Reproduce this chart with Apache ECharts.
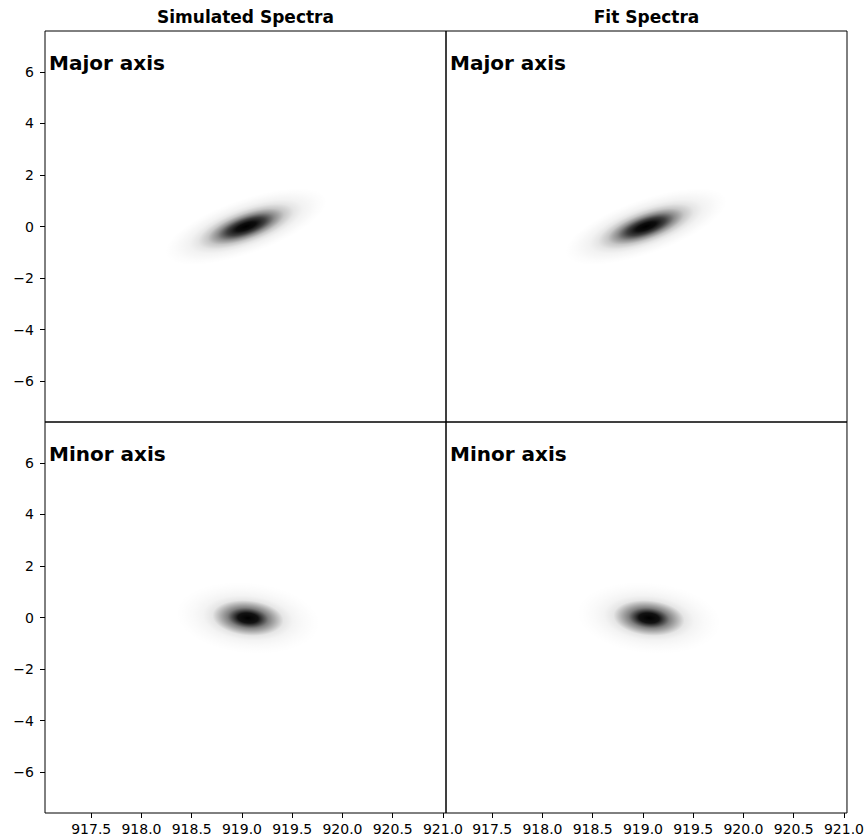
<!DOCTYPE html>
<html>
<head>
<meta charset="utf-8">
<script src="https://cdn.jsdelivr.net/npm/echarts@6/dist/echarts.min.js"></script>
<style>
  html, body { margin: 0; padding: 0; background: #fff; }
  #chart { width: 867px; height: 840px; }
</style>
</head>
<body>
<div id="chart"></div>
<script>
// Axis extents and tick positions
const wavelengthRange = [917.04, 921.03];
const offsetRange = [-7.59, 7.59];
const xTickValues = [917.5, 918.0, 918.5, 919.0, 919.5, 920.0, 920.5, 921.0];
const yTickValues = [-6, -4, -2, 0, 2, 4, 6];

const columnTitles = ['Simulated Spectra', 'Fit Spectra'];
const rowLabels = ['Major axis', 'Minor axis'];

// Line emission in each panel:
// [centre λ (Å), centre offset, semi-major Δλ, semi-major Δoffset, semi-minor Δλ, semi-minor Δoffset]
const simulatedMajor = [919.04, 0.00, 0.80, 1.10, 0.090, -1.00];
const fitMajor       = [919.03, 0.00, 0.80, 1.10, 0.090, -1.00];
const simulatedMinor = [919.06, -0.02, 0.72, -0.27, -0.035, -1.38];
const fitMinor       = [919.06, -0.02, 0.72, -0.27, -0.035, -1.38];

// Normalised intensity along the isophote radius: [fraction of outer radius, intensity]
const majorProfile = [[0, 1], [0.12, 0.95], [0.235, 0.75], [0.35, 0.45], [0.47, 0.22], [0.59, 0.10], [0.70, 0.05], [0.88, 0.015], [1, 0]];
const minorProfile = [[0, 1], [0.14, 0.93], [0.28, 0.50], [0.49, 0.10], [0.62, 0.045], [0.76, 0.022], [0.90, 0.007], [1, 0]];

const panels = [
  { blob: simulatedMajor, profile: majorProfile },
  { blob: fitMajor, profile: majorProfile },
  { blob: simulatedMinor, profile: minorProfile },
  { blob: fitMinor, profile: minorProfile }
];

const gridBoxes = [
  { left: 45, top: 31, width: 401, height: 391 },
  { left: 446, top: 31, width: 401, height: 391 },
  { left: 45, top: 422, width: 401, height: 391 },
  { left: 446, top: 422, width: 401, height: 391 }
];

const FONT = '"DejaVu Sans", "Liberation Sans", sans-serif';

function makeRenderer(profile) {
  const stops = profile.map(function (p) {
    return { offset: p[0], color: 'rgba(0,0,0,' + p[1] + ')' };
  });
  return function (params, api) {
    const x0 = api.value(0), y0 = api.value(1);
    const c = api.coord([x0, y0]);
    const pu = api.coord([x0 + api.value(2), y0 + api.value(3)]);
    const pv = api.coord([x0 + api.value(4), y0 + api.value(5)]);
    const ux = pu[0] - c[0], uy = pu[1] - c[1];
    const vx = pv[0] - c[0], vy = pv[1] - c[1];
    // principal axes of the ellipse spanned by the conjugate semi-axes u, v
    const a = ux * ux + vx * vx;
    const b = ux * uy + vx * vy;
    const d = uy * uy + vy * vy;
    const theta = 0.5 * Math.atan2(2 * b, a - d);
    const h = Math.sqrt(((a - d) / 2) * ((a - d) / 2) + b * b);
    const l1 = (a + d) / 2 + h;
    const l2 = Math.max((a + d) / 2 - h, 1e-6);
    return {
      type: 'circle',
      x: c[0],
      y: c[1],
      rotation: -theta,
      scaleX: Math.sqrt(l1),
      scaleY: Math.sqrt(l2),
      shape: { cx: 0, cy: 0, r: 1 },
      style: { fill: new echarts.graphic.RadialGradient(0.5, 0.5, 0.5, stops) },
      silent: true
    };
  };
}

const xAxes = gridBoxes.map(function (g, i) {
  const bottomRow = i >= 2;
  return {
    type: 'value',
    gridIndex: i,
    position: 'bottom',
    min: wavelengthRange[0],
    max: wavelengthRange[1],
    axisLine: { show: false, onZero: false },
    splitLine: { show: false },
    axisTick: {
      show: bottomRow,
      length: 5,
      customValues: xTickValues,
      lineStyle: { color: '#000', width: 1 }
    },
    axisLabel: {
      show: bottomRow,
      customValues: xTickValues,
      margin: 9,
      color: '#000',
      fontFamily: FONT,
      fontSize: 14,
      formatter: function (v) { return Number(v).toFixed(1); }
    }
  };
});

const yAxes = gridBoxes.map(function (g, i) {
  const leftCol = i % 2 === 0;
  return {
    type: 'value',
    gridIndex: i,
    position: 'left',
    min: offsetRange[0],
    max: offsetRange[1],
    axisLine: { show: false, onZero: false },
    splitLine: { show: false },
    axisTick: {
      show: leftCol,
      length: 5,
      customValues: yTickValues,
      lineStyle: { color: '#000', width: 1 }
    },
    axisLabel: {
      show: leftCol,
      customValues: yTickValues,
      margin: 11,
      color: '#000',
      fontFamily: FONT,
      fontSize: 14,
      formatter: function (v) { return String(Math.round(v)).replace('-', '\u2212'); }
    }
  };
});

const series = panels.map(function (p, i) {
  return {
    type: 'custom',
    xAxisIndex: i,
    yAxisIndex: i,
    renderItem: makeRenderer(p.profile),
    data: [p.blob],
    silent: true,
    animation: false
  };
});

const texts = [];
columnTitles.forEach(function (t, j) {
  const g = gridBoxes[j];
  texts.push({
    type: 'text',
    x: g.left + g.width / 2,
    y: 17,
    style: { text: t, font: 'bold 17px ' + FONT, fill: '#000', textAlign: 'center', textVerticalAlign: 'middle' }
  });
});
gridBoxes.forEach(function (g, i) {
  texts.push({
    type: 'text',
    x: g.left + 4,
    y: g.top + 32,
    style: { text: rowLabels[Math.floor(i / 2)], font: 'bold 20px ' + FONT, fill: '#000', textAlign: 'left', textVerticalAlign: 'middle' }
  });
});

const chart = echarts.init(document.getElementById('chart'), null, { renderer: 'svg' });
chart.setOption({
  backgroundColor: '#fff',
  animation: false,
  grid: gridBoxes.map(function (g) {
    return {
      left: g.left, top: g.top, width: g.width, height: g.height,
      show: true, borderColor: '#000', borderWidth: 1, backgroundColor: 'transparent'
    };
  }),
  xAxis: xAxes,
  yAxis: yAxes,
  series: series,
  graphic: texts
});
</script>
</body>
</html>
